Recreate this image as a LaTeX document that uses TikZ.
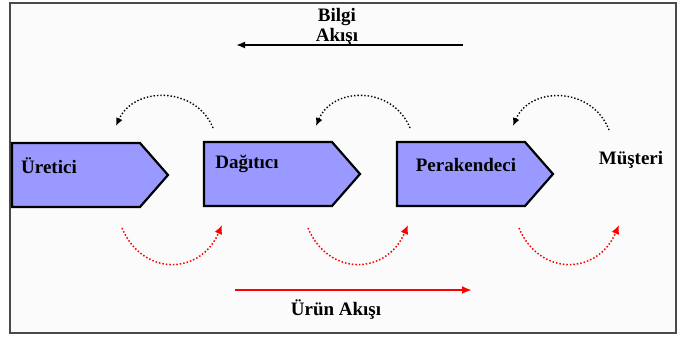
\documentclass[tikz,border=0pt]{standalone}
\usepackage{fontspec}
\setmainfont{Liberation Serif}
\usetikzlibrary{shapes.symbols,arrows.meta}
\definecolor{stagefill}{HTML}{9999FF}
\definecolor{framegray}{HTML}{4A4A4A}
\begin{document}
\begin{tikzpicture}[x=1pt,y=-1pt,
  stagebox/.style={signal, signal to=east, signal pointer angle=97.6,
    minimum width=156pt, minimum height=64pt, inner sep=0pt, outer sep=0pt,
    fill=stagefill, draw=black, line width=2.2pt, anchor=west},
  lbl/.style={font=\bfseries\fontsize{19}{20}\selectfont, inner sep=0pt, align=center},
  infoarc/.style={dash pattern=on 1.4pt off 2pt, line width=1.4pt, black, -{Latex[length=8pt,width=7pt]}},
  prodarc/.style={dash pattern=on 1.5pt off 2pt, line width=1.5pt, red, -{Latex[length=9pt,width=8pt]}},
  infoflow/.style={line width=2pt, black, -{Latex[length=9pt,width=7pt]}},
  prodflow/.style={line width=2.4pt, red, -{Latex[length=10pt,width=8pt]}}
]
\useasboundingbox (0,0) rectangle (678,338);
% frame
\draw[framegray, line width=2.2pt, fill=gray!3] (10,3) rectangle (676,333);

% stages
\node[stagebox] (s1) at (12,175) {};
\node[stagebox] (s2) at (204,174) {};
\node[stagebox] (s3) at (397,174) {};

\node[lbl] (t1) at (49,166) {Üretici};
\node[lbl] (t2) at (247,164) {Dağıtıcı};
\node[lbl] (t3) at (466,165) {Perakendeci};
\node[lbl] (t4) at (631,160) {Müşteri};

% information flow
\node[lbl] (bilgi) at (337,27) {Bilgi\\Akışı};
\coordinate (ia) at (463,45);
\coordinate (ib) at (236,45);
\draw[infoflow] (ia) -- (ib);

% product flow
\coordinate (pa) at (235,290);
\coordinate (pb) at (472,290);
\draw[prodflow] (pa) -- (pb);
\node[lbl] (urun) at (336,310) {Ürün Akışı};

% black dotted arcs (information)
\coordinate (b1s) at (213,128); \coordinate (b1e) at (116,126);
\coordinate (b2s) at (410,128); \coordinate (b2e) at (316,126);
\coordinate (b3s) at (609,130); \coordinate (b3e) at (513,126);
\draw[infoarc] (b1s) .. controls (196,86) and (134,86) .. (b1e);
\draw[infoarc] (b2s) .. controls (393,86) and (333,86) .. (b2e);
\draw[infoarc] (b3s) .. controls (592,86) and (530,86) .. (b3e);

% red dotted arcs (product)
\coordinate (r1s) at (122,228); \coordinate (r1e) at (222,225);
\coordinate (r2s) at (308,228); \coordinate (r2e) at (408,225);
\coordinate (r3s) at (519,228); \coordinate (r3e) at (619,225);
\draw[prodarc] (r1s) .. controls (142,276) and (200,276) .. (r1e);
\draw[prodarc] (r2s) .. controls (328,276) and (386,276) .. (r2e);
\draw[prodarc] (r3s) .. controls (539,276) and (597,276) .. (r3e);
\end{tikzpicture}
\end{document}
